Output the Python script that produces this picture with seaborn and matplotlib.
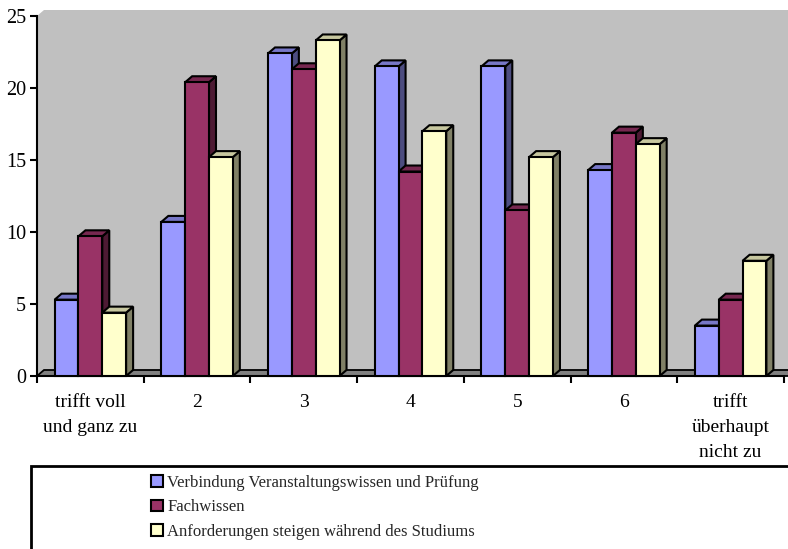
import numpy as np
import pandas as pd
import matplotlib
matplotlib.use("Agg")
import matplotlib.pyplot as plt
import seaborn as sns
from matplotlib.patches import Polygon, Rectangle, Patch
from matplotlib.colors import to_rgb

# --- data -------------------------------------------------------------
categories = ["trifft voll\nund ganz zu", "2", "3", "4", "5", "6",
              "trifft\nüberhaupt\nnicht zu"]
series = ["Verbindung Veranstaltungswissen und Prüfung",
          "Fachwissen",
          "Anforderungen steigen während des Studiums"]
verbindung = [5.3, 10.7, 22.4, 21.5, 21.5, 14.3, 3.5]
fachwissen = [9.7, 20.4, 21.3, 14.2, 11.5, 16.9, 5.3]
anforderungen = [4.4, 15.2, 23.3, 17.0, 15.2, 16.1, 8.0]
yticks = [0, 5, 10, 15, 20, 25]
colors = ["#9999FF", "#993366", "#FFFFCC"]

rows = []
for name, vals in zip(series, [verbindung, fachwissen, anforderungen]):
    for cat, v in zip(categories, vals):
        rows.append({"Kategorie": cat, "Reihe": name, "Wert": v})
df = pd.DataFrame(rows)

# --- style ------------------------------------------------------------
sns.set_theme(style="white")
plt.rcParams["font.family"] = ["Liberation Serif", "DejaVu Serif"]

W, H = 788, 549
fig = plt.figure(figsize=(W / 100, H / 100), dpi=100)
ax = fig.add_axes([37 / W, 173 / H, 747 / W, 360 / H])

sns.barplot(data=df, x="Kategorie", y="Wert", hue="Reihe",
            order=categories, hue_order=series, palette=colors,
            saturation=1, width=0.67, errorbar=None,
            edgecolor="black", linewidth=1.5, legend=False, ax=ax)

x0, x1 = -0.5, len(categories) - 0.5
ymax = 25
ax.set_xlim(x0, x1)
ax.set_ylim(0, ymax)

# depth of the pseudo-3D extrusion in data units (about 7px right, 6px up)
dx = 7 * len(categories) / 747
dy = 6 * ymax / 360


def shade(c, f):
    r, g, b = to_rgb(c)
    return (r * f, g * f, b * f)


bars = sorted([p for p in ax.patches if p.get_height() > 0],
              key=lambda p: p.get_x())

# back wall and floor
wall = Polygon([(x0, 0), (x0, ymax), (x0 + dx, ymax + dy),
                (x1 + dx + 0.2, ymax + dy), (x1 + dx + 0.2, 0)],
               closed=True, facecolor="#C0C0C0", edgecolor="none",
               zorder=0.5, clip_on=False)
ax.add_patch(wall)
floor = Polygon([(x0, 0), (x1 + 0.2, 0), (x1 + 0.2 + dx, dy), (x0 + dx, dy)],
                closed=True, facecolor="#808080", edgecolor="black",
                linewidth=1.3, zorder=1, clip_on=False)
ax.add_patch(floor)

# side and top faces of every column
for i, p in enumerate(bars):
    x, w, h = p.get_x(), p.get_width(), p.get_height()
    fc = p.get_facecolor()
    side = Polygon([(x + w, 0), (x + w + dx, dy), (x + w + dx, h + dy), (x + w, h)],
                   closed=True, facecolor=shade(fc, 0.5), edgecolor="black",
                   linewidth=1.5, joinstyle="miter", zorder=3 + 3 * i,
                   clip_on=False)
    top = Polygon([(x, h), (x + dx, h + dy), (x + w + dx, h + dy), (x + w, h)],
                  closed=True, facecolor=shade(fc, 0.78), edgecolor="black",
                  linewidth=1.5, joinstyle="miter", zorder=4 + 3 * i,
                  clip_on=False)
    ax.add_patch(side)
    ax.add_patch(top)
    p.set_zorder(5 + 3 * i)
    p.set_clip_on(False)

ax.patch.set_visible(False)
for s in ["top", "right"]:
    ax.spines[s].set_visible(False)
for s in ["left", "bottom"]:
    ax.spines[s].set_color("black")
    ax.spines[s].set_linewidth(1.5)

ax.set_xlabel("")
ax.set_ylabel("")

# ticks at category boundaries, labels at category centres
ax.set_xticks(np.arange(x0, x1 + 0.01, 1.0))
ax.set_xticklabels([])
ax.set_xticks(range(len(categories)), labels=categories, minor=True)
ax.tick_params(axis="x", which="major", bottom=True, direction="out",
               length=5, width=1.5, color="black")
ax.tick_params(axis="x", which="minor", bottom=True, length=0, pad=13,
               labelsize=14, labelcolor="black")
for t in ax.get_xticklabels(minor=True):
    t.set_linespacing(1.6)

ax.set_yticks(yticks)
ax.set_yticklabels([str(v) for v in yticks])
ax.tick_params(axis="y", which="major", left=True, direction="out",
               length=5, width=1.5, color="black", labelsize=14.5,
               labelcolor="black", pad=3)

# legend with a box running off the lower right corner
box = Rectangle((31 / W, -0.05), 1.0, 0.05 + (H - 466) / H,
                transform=fig.transFigure, fill=False, edgecolor="black",
                linewidth=2, clip_on=False)
fig.add_artist(box)

handles = [Patch(facecolor=c, edgecolor="black", linewidth=1.5) for c in colors]
fig.legend(handles=handles, labels=series, loc="upper left",
           bbox_to_anchor=(151 / W, 1 - 475 / H), frameon=False,
           fontsize=12, handlelength=0.72, handleheight=0.72,
           handletextpad=0.25, labelspacing=0.5, borderpad=0,
           borderaxespad=0)

fig.savefig("out.png", dpi=100)
